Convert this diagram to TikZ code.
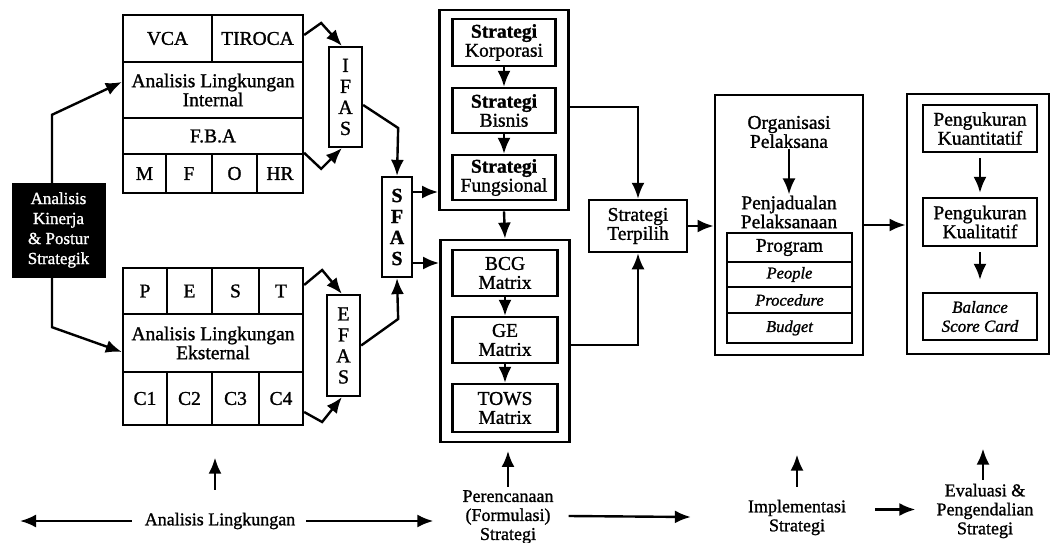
\documentclass[tikz,border=0pt]{standalone}
\usepackage{fontspec}
\setmainfont{Liberation Serif}[FakeBold=1.2]
\usetikzlibrary{arrows.meta}
\begin{document}
\begin{tikzpicture}[x=1pt,y=-1pt,
  fs/.style={font={\fontsize{19.5}{19}\selectfont}},
  bfs/.style={font={\fontsize{18}{19}\selectfont},align=center,inner sep=1pt},
  cell/.style={draw,line width=2.3pt,inner sep=1pt,align=center,fs},
  vlet/.style={cell,font={\fontsize{20}{21}\selectfont}},
  outer/.style={draw,line width=2.8pt,inner sep=0pt},
  itrow/.style={cell,font={\fontsize{16.5}{17}\selectfont\itshape}},
  arr/.style={-{Latex[length=16pt,width=13pt]},line width=2.4pt,line join=miter},
]
\useasboundingbox (0,0) rectangle (1052,543);

% ---- black start box
\node[fill=black,draw=black,text=white,minimum width=93pt,minimum height=94pt,
      align=center,inner sep=1pt,font={\fontsize{17}{20}\selectfont}] (kin) at (58.5,230)
      {Analisis\\Kinerja\\\& Postur\\Strategik};

% ---- internal analysis block
\node[cell,minimum width=89pt,minimum height=47pt] (vca) at (167.5,38.5) {VCA};
\node[cell,minimum width=91pt,minimum height=47pt] (tiroca) at (257.5,38.5) {TIROCA};
\node[cell,minimum width=180pt,minimum height=56pt] (ali) at (213,90) {Analisis Lingkungan\\Internal};
\node[cell,minimum width=180pt,minimum height=36pt] (fba) at (213,136) {F.B.A};
\node[cell,minimum width=43pt,minimum height=39pt] (nM) at (144.5,173.5) {M};
\node[cell,minimum width=46pt,minimum height=39pt] (nF) at (189,173.5) {F};
\node[cell,minimum width=45pt,minimum height=39pt] (nO) at (234.5,173.5) {O};
\node[cell,minimum width=46pt,minimum height=39pt] (nHR) at (280,173.5) {HR};

% ---- external analysis block
\node[cell,minimum width=44pt,minimum height=46pt] (nP) at (145,291) {P};
\node[cell,minimum width=45pt,minimum height=46pt] (nE) at (189.5,291) {E};
\node[cell,minimum width=47pt,minimum height=46pt] (nS) at (235.5,291) {S};
\node[cell,minimum width=44pt,minimum height=46pt] (nT) at (281,291) {T};
\node[cell,minimum width=180pt,minimum height=58pt] (ale) at (213,343) {Analisis Lingkungan\\Eksternal};
\node[cell,minimum width=44pt,minimum height=53pt] (c1) at (145,398.5) {C1};
\node[cell,minimum width=45pt,minimum height=53pt] (c2) at (189.5,398.5) {C2};
\node[cell,minimum width=47pt,minimum height=53pt] (c3) at (235.5,398.5) {C3};
\node[cell,minimum width=44pt,minimum height=53pt] (c4) at (281,398.5) {C4};

% ---- IFAS / EFAS / SFAS
\node[vlet,minimum width=33pt,minimum height=100pt] (ifas) at (345.5,97) {I\\F\\A\\S};
\node[vlet,minimum width=33pt,minimum height=101pt] (efas) at (343.5,345.5) {E\\F\\A\\S};
\node[vlet,minimum width=30pt,minimum height=100pt,font={\fontsize{20}{21}\selectfont\bfseries}] (sfas) at (397,227) {S\\F\\A\\S};

% ---- strategy block
\node[outer,minimum width=129pt,minimum height=200pt] (strat) at (504,110) {};
\node[cell,minimum width=103pt,minimum height=47pt] (kor) at (504,42.5) {\textbf{Strategi}\\Korporasi};
\node[cell,minimum width=103pt,minimum height=45pt] (bis) at (504,110.5) {\textbf{Strategi}\\Bisnis};
\node[cell,minimum width=103pt,minimum height=45pt] (fun) at (504,177.5) {\textbf{Strategi}\\Fungsional};

% ---- matrix block
\node[outer,minimum width=129pt,minimum height=202pt] (mat) at (505,341) {};
\node[cell,minimum width=105pt,minimum height=46pt] (bcg) at (505,273) {BCG\\Matrix};
\node[cell,minimum width=105pt,minimum height=46pt] (ge) at (505,340) {GE\\Matrix};
\node[cell,minimum width=105pt,minimum height=48pt] (tows) at (505,408) {TOWS\\Matrix};

% ---- chosen strategy
\node[cell,line width=2.5pt,minimum width=98pt,minimum height=52pt] (terp) at (638,226) {Strategi\\Terpilih};

% ---- implementation block
\node[outer,minimum width=148pt,minimum height=260pt] (impl) at (789,225) {};
\node[fs,align=center,inner sep=1pt] (org) at (789,132) {Organisasi\\Pelaksana};
\node[fs,align=center,inner sep=1pt] (pen) at (789,212) {Penjadualan\\Pelaksanaan};
\node[cell,minimum width=125pt,minimum height=29pt] (prog) at (789.5,247.5) {Program};
\node[itrow,minimum width=125pt,minimum height=25pt] (peo) at (789.5,274.5) {People};
\node[itrow,minimum width=125pt,minimum height=26pt] (proc) at (789.5,300) {Procedure};
\node[itrow,minimum width=125pt,minimum height=30pt] (bud) at (789.5,328) {Budget};

% ---- evaluation block
\node[outer,minimum width=142pt,minimum height=260pt] (eval) at (978,224) {};
\node[cell,minimum width=114pt,minimum height=47pt] (kuan) at (980,128.5) {Pengukuran\\Kuantitatif};
\node[cell,minimum width=114pt,minimum height=48pt] (kual) at (980,222) {Pengukuran\\Kualitatif};
\node[cell,minimum width=114pt,minimum height=47pt,font={\fontsize{17}{19}\selectfont\itshape}] (bsc) at (980,316.5) {Balance\\Score Card};

% ---- connectors
\draw[arr] ([xshift=-6.5pt]kin.north) -- ++(0,-68) -- ([yshift=8pt]ali.west);
\draw[arr] ([xshift=-6.5pt]kin.south) -- ++(0,50) -- ([yshift=-9pt]ale.west);

\draw[arr] ([yshift=3.5pt]tiroca.east) -- ++(17,-12) -- ([xshift=14pt]ifas.north west);
\draw[arr] (nHR.north east) -- ++(17,16) -- ([xshift=14pt]ifas.south west);
\draw[arr] ([yshift=6pt]nT.east) -- ++(18,-15) -- ([xshift=16pt]efas.north west);
\draw[arr] ([yshift=-13.5pt]c4.east) -- ++(18,10) -- ([xshift=16pt]efas.south west);

\draw[arr] ([yshift=-8pt]ifas.east) -- ++(35,23) -- (sfas.north);
\draw[arr] (efas.east) -- ++(37,-26.5) -- (sfas.south);

\draw[arr] ([yshift=35pt]sfas.east) -- ([yshift=35pt]sfas.east -| strat.west);
\draw[arr] ([yshift=-36pt]sfas.east) -- ([yshift=-36pt]sfas.east -| mat.west);

\draw[arr] (kor.south) -- (bis.north);
\draw[arr] (bis.south) -- (fun.north);
\draw[arr] (strat.south) -- (mat.north);
\draw[arr] (bcg.south) -- (ge.north);
\draw[arr] (ge.south) -- (tows.north);

\draw[arr] ([yshift=3pt]strat.east) -| (terp.north);
\draw[arr] ([yshift=-4pt]mat.east) -| (terp.south);
\draw[arr] (terp.east) -- (terp.east -| impl.west);
\draw[arr] (org.south) -- (pen.north);
\draw[arr] (impl.east) -- (impl.east -| eval.west);
\draw[arr,shorten <=5pt,shorten >=4pt] (kuan.south) -- (kual.north);
\draw[arr,shorten <=5pt,shorten >=12pt] (kual.south) -- (bsc.north);

% ---- bottom phase row
\node[bfs] (bl1) at (220,521) {Analisis Lingkungan};
\node[bfs] (bl2) at (508,517) {Perencanaan\\(Formulasi)\\Strategi};
\node[bfs] (bl3) at (797,517.5) {Implementasi\\Strategi};
\node[bfs] (bl4) at (985,511) {Evaluasi \&\\Pengendalian\\Strategi};
\coordinate (lend) at (20,521);
\draw[arr] ([xshift=-12pt]bl1.west) -- (lend);
\draw[arr] ([xshift=10pt]bl1.east) -- ([xshift=-28pt]bl2.west |- bl1.east);
\draw[arr] ([xshift=14pt,yshift=1pt]bl2.east) -- ([xshift=-56pt]bl3.west |- bl2.east);
\draw[arr] ([xshift=28pt,yshift=8pt]bl3.east) -- ([xshift=-20pt,yshift=8pt]bl4.west |- bl3.east);

\draw[arr] ([xshift=-5pt,yshift=22pt]bl1.north) -- ++(0,-32);
\draw[arr] ([yshift=2pt]bl2.north) -- ++(0,-36);
\draw[arr] ([yshift=12pt]bl3.north) -- ++(0,-32);
\draw[arr] ([xshift=-2pt,yshift=3pt]bl4.north) -- ++(0,-31);
\end{tikzpicture}
\end{document}
